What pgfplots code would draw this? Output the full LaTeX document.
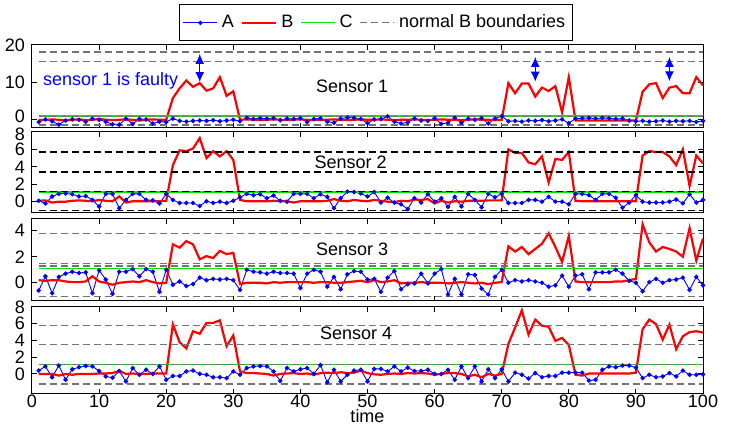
\documentclass[border=0pt]{standalone}
\usepackage{fontspec}
\setmainfont{Liberation Sans}
\usepackage{pgfplots}
\usepackage{pgfplotstable}
\pgfplotsset{compat=1.18}
\usetikzlibrary{arrows.meta}

\definecolor{mblue}{RGB}{0,0,255}
\definecolor{mred}{RGB}{255,0,0}
\definecolor{mgreen}{RGB}{0,230,0}

% x, then A and B for each of the four sensors
\pgfplotstableread{
x a1 b1 a2 b2 a3 b3 a4 b4
1 -0.6 0.0 0.1 0.1 -0.6 0.2 0.4 0
2 0.1 -0.1 -0.2 0.15 0.5 0.15 0.9 0
3 -0.4 0.1 0.6 -0.1 -0.8 0.2 -0.4 0
4 -1.3 0.0 0.9 0 0.45 0.2 1.0 -0.2
5 -0.2 -0.2 0.95 0 0.7 0.1 -0.7 0
6 0.1 0.0 0.85 0.1 0.85 0.05 0.55 -0.1
7 0.0 0.1 0.6 0.15 0.75 0.05 0.8 0
8 -0.5 -0.1 0.65 0.1 0.8 0.1 0.95 0
9 0.3 0.0 0.2 0.05 -0.8 0.5 0.9 0
10 0.0 0.2 -0.55 0.2 0.95 0.1 0.35 0.05
11 -0.5 0.0 0.9 0.1 0.25 0 -0.3 0.05
12 -1.2 -0.1 0.9 0.05 -0.85 -0.15 -0.45 0.1
13 -1.3 0.0 -0.75 0.6 0.85 0 0.35 0.35
14 0.3 0.1 0.2 -0.1 0.85 0.05 -0.9 0
15 -1.1 0.0 0.9 0.05 1.05 0.1 0.7 0.05
16 0.2 -0.2 0.9 0.05 0.5 0.05 -0.1 0
17 0.1 0.0 0.2 0.05 1.05 0.2 0.5 0
18 -1.0 0.1 0.15 0.05 0.85 0.05 0 0.05
19 -0.5 0.0 -0.2 0.05 -0.7 -0.05 0.9 0.05
20 -0.6 0.0 0.9 0.1 1.0 0 -0.7 0.05
21 0.3 5.8 0.2 4.2 -0.15 2.95 -0.25 5.9
22 -0.3 8.4 -0.15 5.9 0.1 2.7 -0.25 3.8
23 -0.5 10.5 -0.15 5.8 -0.25 3.2 0.3 3.05
24 -0.3 8.8 -0.15 6.1 -0.1 2.95 0.4 5.1
25 -0.2 9.8 -0.5 7.3 0.4 1.8 0 4.8
26 -0.3 7.8 0.05 5.0 0.2 2.05 -0.1 6.1
27 -0.1 8.4 -0.15 5.8 0.3 1.9 -0.4 6.1
28 -0.4 11.4 0 5.2 0.25 2.45 -0.4 6.4
29 -0.2 6.4 -0.15 5.8 0.3 2.2 -0.5 3.3
30 0.0 7.6 0.1 4.8 0.2 2.3 0.3 4.6
31 -0.4 0.0 0.5 0.2 -0.55 -0.1 -0.1 0.3
32 0.5 0.1 0.9 0.05 1.0 0 0.7 0.1
33 0.2 0.0 0.75 0.05 0.85 0 0.9 0.1
34 0.4 -0.1 0.85 0.05 0.8 0 0.95 0.05
35 0.3 0.0 0.4 0.05 0.7 -0.05 0.9 0
36 0.4 0.1 0.7 0.1 0.85 0.05 0.3 -0.2
37 -0.1 0.0 0.1 0.05 0.75 0 -0.85 0
38 0.3 -0.1 0 0.05 0.75 0.05 0.7 0.05
39 0.2 0.0 0.9 -0.1 0.7 0.05 0.3 0.1
40 0.4 0.1 0.9 0.05 -0.4 0.05 0.55 0
41 -0.6 0.0 0.9 0.05 0.7 0.05 0.7 0.05
42 0.2 -0.1 0.4 0.05 1.0 0 0 -0.1
43 0.4 0.0 0.85 0.05 0.85 0.05 1.05 0.1
44 -0.5 0.0 0.55 0.1 -0.3 0.05 -1.0 0.15
45 -0.8 0.1 -0.75 0.3 0.45 0 0.5 0.1
46 0.3 0.0 0.4 0.1 -0.5 0 -0.9 0.2
47 0.6 -0.1 1.15 0.05 0.65 0.05 -0.1 0.1
48 0.5 0.0 1.1 0.2 0.9 0.1 0.4 0.15
49 0.2 0.1 0.95 0.1 0.85 0.15 0.5 0.4
50 -0.9 0.0 0.6 0.05 0.25 0.05 -0.9 0.1
51 0.1 0.0 1.1 0.2 0.3 0.2 0.6 -0.05
52 0.2 0.1 -0.1 0.1 -0.7 0.05 0.6 -0.1
53 0.9 0.0 0.45 0 0.4 0.1 0.3 0
54 -0.5 -0.1 -0.1 -0.05 0.9 0.2 0.9 0.05
55 -1.0 0.0 -0.3 0.1 -0.5 -0.05 0.3 0
56 -0.7 0.0 -0.85 0.05 -0.1 0 0.75 0.1
57 0.3 0.1 0.4 0.25 -0.05 0 0.35 0.05
58 -0.2 0.0 -0.1 0.2 0.7 0.05 0.35 0.1
59 -0.3 -0.1 0.85 0.3 -0.05 0 0.5 0.05
60 0.4 0.0 0 -0.2 0.7 0 0 -0.1
61 -1.1 0.1 0.4 0.1 1.05 0 0 0
62 -0.8 0.0 -0.6 -0.1 -0.9 -0.05 0.5 0.1
63 0.5 0.0 0.55 0.05 0.3 0 -0.7 0.1
64 -0.8 -0.1 -0.55 0 -0.9 0.05 0.9 0
65 0.3 0.0 0.9 0.1 0.65 0 -0.5 -0.3
66 0.0 0.1 0.2 0.1 0.6 -0.05 0.9 -0.1
67 0.4 0.0 -0.65 0.1 -0.45 0 -0.9 -0.4
68 -1.0 0.0 0.9 0.15 -0.9 -0.1 0.55 0
69 0.3 -0.1 0.5 0.15 0.45 0 -0.5 -0.2
70 1.0 0.0 0.9 0.15 1.0 0.05 0.55 0
71 -0.4 9.8 -0.15 6.0 0 2.8 -0.9 3.6
72 -0.3 7.1 -0.15 5.6 0.2 2.4 0.15 5.55
73 -0.5 9.7 -0.15 5.6 0.1 2.75 -0.1 7.6
74 -0.2 9.7 0.2 4.5 0.2 2.2 -0.55 4.7
75 -0.3 6.2 0.2 4.3 0.1 2.6 0.1 6.5
76 -0.1 8.6 0 5.2 0 3.0 -0.4 5.75
77 -0.4 7.7 0.55 2.2 -0.3 3.8 -0.25 5.65
78 -0.2 9.0 0 4.9 -0.2 2.75 -0.25 3.95
79 0.1 2.0 0 4.8 0.55 1.6 0.15 4.3
80 -0.9 11.4 -0.3 5.7 -0.3 3.6 0.15 3.45
81 0.3 -0.2 0.9 0.1 0.55 0.1 0.15 -0.1
82 0.4 -0.2 0.9 0.05 0.65 0.05 0.15 -0.2
83 0.5 -0.2 0.75 0.05 -0.5 0.05 -0.8 0.05
84 0.3 -0.2 0.2 0.05 0.8 0.05 -0.7 0.05
85 0.5 -0.2 0.9 0.05 0.8 0.05 0.5 0.05
86 0.4 -0.2 0.9 0.05 0.8 0.05 0.9 0.05
87 0.2 -0.2 0.45 0.05 1.0 0.1 0.8 0.05
88 0.3 -0.2 -0.7 0.05 0.7 0.1 1.0 0.05
89 -0.2 -0.2 -0.1 0.05 0.15 0.2 1.0 0.05
90 -0.4 -0.2 0.75 0.05 0 0.3 0.75 0.15
91 -0.3 7.5 0 5.3 -0.65 4.5 -0.5 5.35
92 -0.5 9.5 -0.1 5.8 0.05 3.1 -0.1 6.5
93 -0.4 9.8 -0.1 5.7 0.3 2.4 -0.4 5.95
94 -0.2 5.8 -0.1 5.7 0 2.75 -0.3 4.1
95 -0.5 8.6 0 5.2 0.2 2.6 0.1 5.9
96 -0.3 9.0 0.25 4.2 0.25 2.4 -0.3 2.95
97 -0.4 7.1 -0.2 6.0 0.4 2.0 0.4 4.5
98 -0.3 7.1 0.85 1.8 -0.55 4.2 -0.1 5.0
99 -0.6 11.4 -0.1 5.3 0.45 1.7 -0.1 5.1
100 -0.3 9.2 0.2 4.4 -0.2 3.4 -0.05 4.95
}\sensordata

\pgfplotsset{
  sensor/.style={
    scale only axis, width=335.5pt, xmin=0, xmax=100,
    xtick={0,10,...,100}, xtick pos=both, ytick pos=both,
    tick align=inside, major tick length=2.5pt,
    axis line style={line width=0.5pt},
    every tick/.style={black, line width=0.5pt},
    /pgf/number format/assume math mode=true,
    tick label style={font=\fontsize{9}{10}\selectfont},
    label style={font=\fontsize{9}{10}\selectfont},
  },
  serA/.style={mblue, line width=0.45pt, mark=*, mark size=0.9pt},
  serB/.style={mred, line width=1.1pt, no marks},
  serC/.style={mgreen, line width=0.6pt, no marks},
  bound/.style={black!55, line width=0.65pt, dash pattern=on 3.5pt off 2pt, no marks},
}
\tikzset{
  darr/.style={mblue, line width=0.6pt, {Latex[length=5pt,width=4.5pt]}-{Latex[length=5pt,width=4.5pt]}},
}

\begin{document}
\begin{tikzpicture}[font=\fontsize{9}{10}\selectfont]
\path[use as bounding box] (-16pt,22.5pt) rectangle (351.5pt,-191pt);

% Sensor 1
\begin{axis}[sensor, at={(0pt,0pt)}, anchor=north west, height=41.5pt,
  ymin=-2.2, ymax=20, ytick={10,20}, extra y ticks={0},
  extra y tick style={yticklabel style={yshift=1.5pt}}, xticklabel=\empty,
  legend columns=4,
  legend style={at={(0.5127,1.49)}, anchor=north, draw=black, line width=0.5pt,
    font=\fontsize{9}{10}\selectfont, inner xsep=1.5pt, inner ysep=3pt,
    /tikz/every even column/.append style={column sep=1.5pt}},
]
\addplot[serA] table[x=x, y=a1] {\sensordata};
\addlegendentry{A}
\addplot[serB] table[x=x, y=b1] {\sensordata};
\addlegendentry{B}
\addplot[serC] coordinates {(1,1.0) (100,1.0)};
\addlegendentry{C}
\addplot[bound] coordinates {(1,18.1) (100,18.1)};
\addlegendentry{normal B boundaries}
\addplot[bound, forget plot] coordinates {(1,15.6) (100,15.6)};
\addplot[bound, forget plot] coordinates {(1,0.9) (100,0.9)};
\addplot[bound, forget plot] coordinates {(1,-1.4) (100,-1.4)};
\node[anchor=west, inner sep=0pt, text=mblue] at (axis cs:1.6,10.3) {sensor 1 is faulty};
\node at (axis cs:47.7,9.0) {Sensor 1};
\draw[darr] (axis cs:25,17.6) -- (axis cs:25,10.1);
\draw[darr] (axis cs:75,16.8) -- (axis cs:75,10.2);
\draw[darr] (axis cs:95,16.8) -- (axis cs:95,10.3);
\end{axis}

% Sensor 2
\begin{axis}[sensor, at={(0pt,-43.5pt)}, anchor=north west, height=40.5pt,
  ymin=-1.3, ymax=8, ytick={0,2,4,6}, extra y ticks={8},
  extra y tick style={yticklabel style={yshift=-1pt}}, xticklabel=\empty]
\addplot[serA] table[x=x, y=a2] {\sensordata};
\addplot[serB] table[x=x, y=b2] {\sensordata};
\addplot[serC] coordinates {(1,1.1) (100,1.1)};
\addplot[bound, black] coordinates {(1,5.7) (100,5.7)};
\addplot[bound, black] coordinates {(1,3.4) (100,3.4)};
\addplot[bound, black] coordinates {(1,1.15) (100,1.15)};
\addplot[bound, black] coordinates {(1,-1.05) (100,-1.05)};
\node at (axis cs:47.5,4.5) {Sensor 2};
\end{axis}

% Sensor 3
\begin{axis}[sensor, at={(0pt,-87pt)}, anchor=north west, height=41pt,
  ymin=-1.4, ymax=4.9, ytick={0,2,4}, xticklabel=\empty]
\addplot[serA] table[x=x, y=a3] {\sensordata};
\addplot[serB] table[x=x, y=b3] {\sensordata};
\addplot[serC] coordinates {(1,1.07) (100,1.07)};
\addplot[bound] coordinates {(1,3.8) (100,3.8)};
\addplot[bound] coordinates {(1,1.5) (100,1.5)};
\addplot[bound] coordinates {(1,1.3) (100,1.3)};
\addplot[bound] coordinates {(1,-1.05) (100,-1.05)};
\node at (axis cs:47.7,2.6) {Sensor 3};
\end{axis}

% Sensor 4
\begin{axis}[sensor, at={(0pt,-131pt)}, anchor=north west, height=43.5pt,
  ymin=-2.4, ymax=8, ytick={0,2,4,6,8}, xlabel={time},
  xticklabel style={yshift=3pt}, xlabel style={yshift=6pt}]
\addplot[serA] table[x=x, y=a4] {\sensordata};
\addplot[serB] table[x=x, y=b4] {\sensordata};
\addplot[serC] coordinates {(1,1.1) (100,1.1)};
\addplot[bound] coordinates {(1,5.75) (100,5.75)};
\addplot[bound] coordinates {(1,3.5) (100,3.5)};
\addplot[bound] coordinates {(1,1.15) (100,1.15)};
\addplot[bound] coordinates {(1,-1.2) (100,-1.2)};
\node at (axis cs:48.3,4.85) {Sensor 4};
\end{axis}
\end{tikzpicture}
\end{document}
